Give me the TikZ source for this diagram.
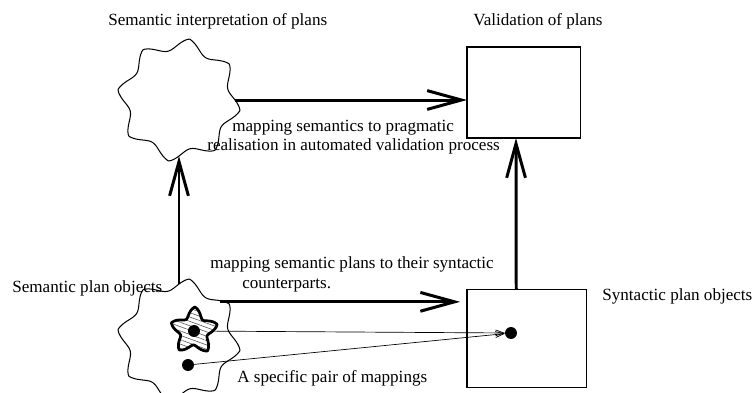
\documentclass[tikz,border=0pt]{standalone}
\usepackage{fontspec}
\setmainfont{Liberation Serif}
\usetikzlibrary{arrows.meta,patterns.meta,backgrounds,fit}

% wavy closed outline round the current origin: radius, wave, points, phase
\newcommand\wavyline[4]{plot[smooth cycle,domain=0:358,samples=180]
  ({(#1+#2*(1-abs(sin(#3*(\x-#4)/2))-pow(sin(#3*(\x-#4)/2),2)))*cos(\x)},
   {(#1+#2*(1-abs(sin(#3*(\x-#4)/2))-pow(sin(#3*(\x-#4)/2),2)))*sin(\x)})}

\begin{document}
\begin{tikzpicture}[x=0.585pt,y=-0.585pt]

\tikzstyle{label} = [inner sep=0pt,anchor=base west,font=\fontsize{10}{12}\selectfont]
\tikzstyle{planbox} = [draw,line width=0.6pt,inner sep=0pt,outer sep=0pt]
\tikzstyle{blob} = [circle,inner sep=0pt,outer sep=0pt,minimum size=65.5pt]
\tikzstyle{wavy} = [line width=0.6pt]
\tikzstyle{starline} = [line width=1.6pt,line join=round,preaction={fill=white},
  pattern={Lines[angle=-20,distance=2.4pt,line width=0.3pt]},pattern color=black!75]
\tikzstyle{dot} = [circle,fill=black,inner sep=0pt,outer sep=0pt,minimum size=7pt]
\tikzstyle{bigedge} = [-{Straight Barb[length=20pt,width=11pt]},line width=1.75pt]
\tikzstyle{thinedge} = [-{Straight Barb[length=5pt,width=3.5pt]},line width=0.4pt]

\useasboundingbox (0,0) rectangle (753,392);

% the four places
\node[blob](semtop) at (179,100){};
\node[blob](semobj) at (179,340){};
\node[planbox,fit={(467,47) (580,138)}](valid){};
\node[planbox,fit={(467,289) (586,387)}](synt){};

\draw[wavy,shift={(semtop.center)}] \wavyline{56}{6}{8}{9.54};
\draw[wavy,shift={(semobj.center)}] \wavyline{56}{6}{8}{9.54};

% texts
\node[label](titlesem) at (108,25){Semantic interpretation of plans};
\node[label](titleval) at (473,25){Validation of plans};
\node[label](pragone) at (232,131){mapping semantics to pragmatic};
\node[label](pragtwo) at (207,150){realisation in automated validation process};
\node[label](syntone) at (210,268){mapping semantic plans to their syntactic};
\node[label](synttwo) at (242,288){counterparts.};
\node[label](semlabel) at (12,292){Semantic plan objects};
\node[label](syntlabel) at (602,300){Syntactic plan objects};
\node[label](pairlabel) at (237,382){A specific pair of mappings};

% main mappings
\draw[bigedge] (semtop.east) -- (semtop.east -| valid.west);
\draw[bigedge] (semobj.north) -- (semtop.south);
\draw[bigedge,shorten >=4pt] (semobj.43) -- (semobj.43 -| synt.west);
\draw[bigedge] ([xshift=-6pt]synt.north) -- ([xshift=-4.4pt]valid.south);

% one pair of mappings
\node[dot](dota) at (194,331){};
\node[dot](dotb) at (188,365){};
\node[dot](dots) at (511,333){};

\begin{scope}[on background layer]
\draw[thinedge] (dota) -- (dots);
\draw[thinedge] (dotb) -- (dots);
\draw[starline,shift={(dota.center)}] \wavyline{19}{5}{5}{200} -- cycle;
\end{scope}

\end{tikzpicture}
\end{document}
